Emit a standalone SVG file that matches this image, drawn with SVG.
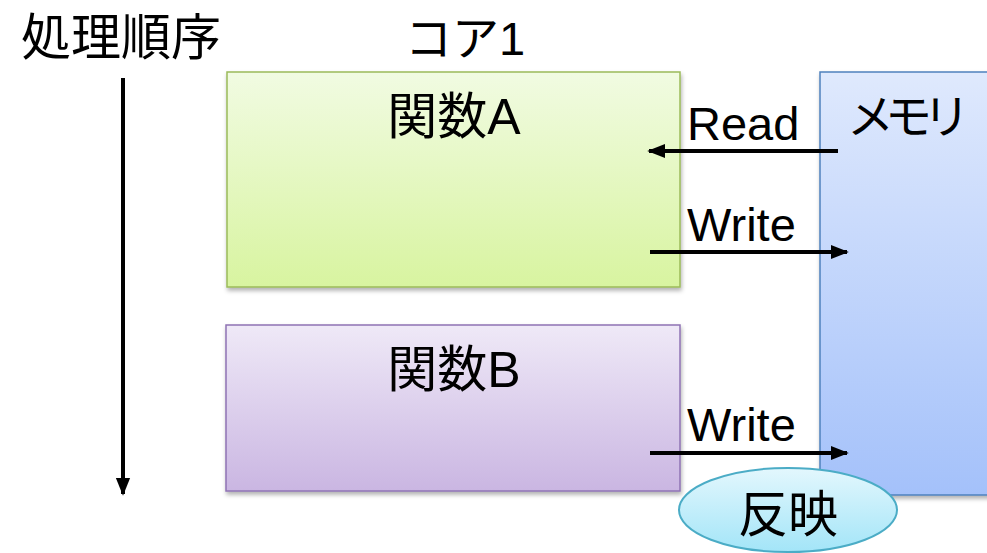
<svg xmlns="http://www.w3.org/2000/svg" width="987" height="553" viewBox="0 0 987 553">
<defs>
<linearGradient id="gA" x1="0" y1="0" x2="0" y2="1"><stop offset="0" stop-color="#f1fbe2"/><stop offset="1" stop-color="#d8f4a0"/></linearGradient>
<linearGradient id="gB" x1="0" y1="0" x2="0" y2="1"><stop offset="0" stop-color="#efe9f7"/><stop offset="1" stop-color="#cab6e2"/></linearGradient>
<linearGradient id="gM" x1="0" y1="0" x2="0" y2="1"><stop offset="0" stop-color="#dfe9fd"/><stop offset="1" stop-color="#a4c1fa"/></linearGradient>
<linearGradient id="gE" x1="0" y1="0" x2="0" y2="1"><stop offset="0" stop-color="#e3f7fd"/><stop offset="1" stop-color="#a3e5f8"/></linearGradient>
<filter id="sh" x="-10%" y="-10%" width="120%" height="120%"><feDropShadow dx="1" dy="3" stdDeviation="2" flood-color="#000" flood-opacity="0.3"/></filter>
<marker id="ah" viewBox="0 0 10 10" refX="9" refY="5" markerWidth="4.5" markerHeight="4.5" orient="auto" markerUnits="strokeWidth"><path d="M0,1 L10,5 L0,9 Z" fill="#000"/></marker>
</defs>
<style>
text{font-family:"Liberation Sans","Noto Sans CJK JP",sans-serif;fill:#000;}
.t{font-size:47px;}
.j{font-size:50px;}
.c{stroke:#000;stroke-width:4;fill:none;marker-end:url(#ah);}
</style>
<rect width="987" height="553" fill="#fff"/>
<text class="j" x="21" y="55">処理順序</text>
<text class="t" x="405" y="55">コア1</text>
<g id="funcA">
<rect x="227" y="72" width="453" height="215" fill="url(#gA)" stroke="#9bbb59" stroke-width="1.5" filter="url(#sh)"/>
<text class="j" x="454" y="134" text-anchor="middle">関数A</text>
</g>
<g id="funcB">
<rect x="226" y="325" width="454" height="166" fill="url(#gB)" stroke="#8f73b4" stroke-width="1.5" filter="url(#sh)"/>
<text class="j" x="454" y="387" text-anchor="middle">関数B</text>
</g>
<g id="memory">
<rect x="820" y="72" width="180" height="423" fill="url(#gM)" stroke="#4f81bd" stroke-width="1.5" filter="url(#sh)"/>
<text class="t" x="847" y="133" textLength="123">メモリ</text>
</g>
<g id="reflect">
<ellipse cx="788" cy="510" rx="109" ry="42" fill="url(#gE)" stroke="#4bacc6" stroke-width="2"/>
<text class="j" x="788" y="532" text-anchor="middle">反映</text>
</g>
<g id="connectors">
<line class="c" x1="123" y1="78" x2="123" y2="494"/>
<line class="c" x1="838" y1="151" x2="649" y2="151"/>
<line class="c" x1="650" y1="252" x2="847" y2="252"/>
<line class="c" x1="650" y1="453" x2="847" y2="453"/>
<text class="t" x="687" y="140">Read</text>
<text class="t" x="687" y="241">Write</text>
<text class="t" x="687" y="441">Write</text>
</g>
</svg>
